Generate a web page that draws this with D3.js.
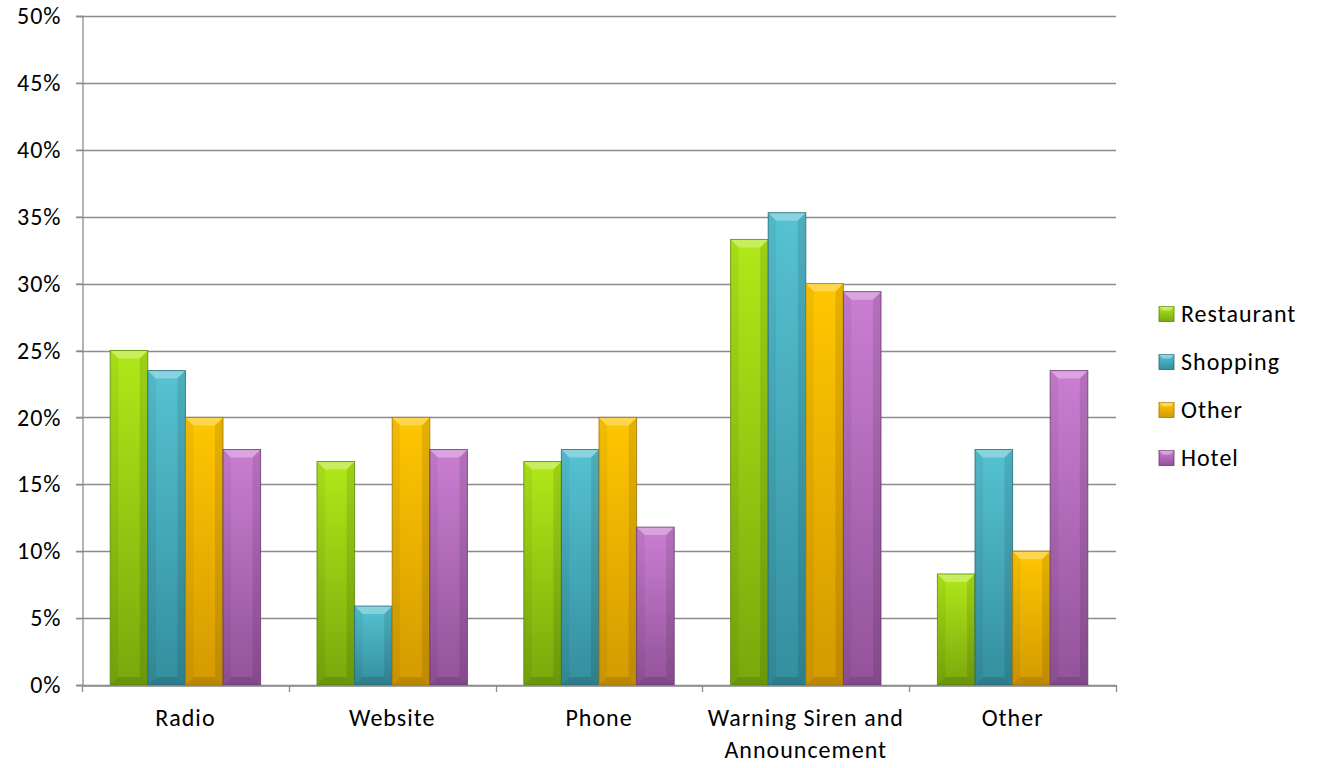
<!DOCTYPE html>
<html>
<head>
<meta charset="utf-8">
<script src="https://cdn.jsdelivr.net/npm/d3@7"></script>
<style>
  html, body { margin: 0; padding: 0; background: #fff; }
  svg { display: block; font-family: "Carlito", "Lato", "Open Sans", sans-serif; }
  text { letter-spacing: 1px; }
</style>
</head>
<body>
<svg id="chart" width="1317" height="768"></svg>
<script>
// Survey: how respondents received the warning, by location type
const categories = ["Radio", "Website", "Phone", "Warning Siren and Announcement", "Other"];
const seriesNames = ["Restaurant", "Shopping", "Other", "Hotel"];
const restaurant = [25.0, 16.7, 16.7, 33.3, 8.3];
const shopping   = [23.5, 5.9, 17.6, 35.3, 17.6];
const other      = [20.0, 20.0, 20.0, 30.0, 10.0];
const hotel      = [17.6, 17.6, 11.8, 29.4, 23.5];
const yTicks = [0, 5, 10, 15, 20, 25, 30, 35, 40, 45, 50];

const seriesValues = [restaurant, shopping, other, hotel];
const palette = [
  { top: "#b0e818", bottom: "#78a80c", edge: "#5a8406" },
  { top: "#56c2d2", bottom: "#348e9e", edge: "#206a76" },
  { top: "#ffc600", bottom: "#d49a00", edge: "#a27400" },
  { top: "#ca7ed2", bottom: "#93539a", edge: "#6a3670" }
];
const FONT = 24;

const svg = d3.select("#chart");
const margin = { left: 82, right: 1116, top: 16, bottom: 685 };

const x0 = d3.scaleBand().domain(categories).range([margin.left, margin.right]).paddingInner(0).paddingOuter(0);
const bandW = x0.bandwidth();
// 150% gap width: four bars plus 1.5 bar-widths of gap per category
const x1 = d3.scaleBand().domain(seriesNames).range([0, bandW]).paddingInner(0).paddingOuter(0.75);
const y = d3.scaleLinear().domain([0, 50]).range([margin.bottom, margin.top]);

const defs = svg.append("defs");
palette.forEach((p, i) => {
  const g = defs.append("linearGradient").attr("id", "grad" + i)
    .attr("x1", 0).attr("y1", 0).attr("x2", 0).attr("y2", 1);
  g.append("stop").attr("offset", "0%").attr("stop-color", p.top);
  g.append("stop").attr("offset", "100%").attr("stop-color", p.bottom);
});

// Gridlines
svg.append("g")
  .selectAll("line").data(yTicks).join("line")
  .attr("x1", margin.left - 6).attr("x2", margin.right)
  .attr("y1", d => Math.round(y(d)) + 0.5).attr("y2", d => Math.round(y(d)) + 0.5)
  .attr("stroke", "#8c8c8c").attr("stroke-width", 1.3);

// Y axis
const yAxis = d3.axisLeft(y).tickValues(yTicks).tickFormat(d => d + "%").tickSize(6).tickPadding(15);
const gy = svg.append("g").attr("transform", `translate(${margin.left + 0.5},0)`).call(yAxis);
gy.select(".domain").attr("stroke", "#8c8c8c").attr("stroke-width", 1.3);
gy.selectAll(".tick line").attr("stroke", "#8c8c8c").attr("stroke-width", 1.3);
gy.selectAll(".tick text").attr("font-size", FONT).attr("fill", "#000")
  .attr("font-family", "Carlito, Lato, 'Open Sans', sans-serif");

// Bars with bevelled edges
const bevel = 8;
const groups = svg.append("g").selectAll("g").data(categories).join("g")
  .attr("transform", d => `translate(${x0(d)},0)`);

seriesNames.forEach((s, si) => {
  groups.each(function(cat, ci) {
    const v = seriesValues[si][ci];
    const bx0 = x1(s), bx1 = x1(s) + x1.bandwidth();
    const by0 = y(v), by1 = y(0);
    const b = Math.min(bevel, (by1 - by0) / 2);
    const g = d3.select(this).append("g");
    g.append("rect").attr("x", bx0).attr("y", by0).attr("width", bx1 - bx0).attr("height", by1 - by0)
      .attr("fill", `url(#grad${si})`);
    // top bevel (lit)
    g.append("polygon")
      .attr("points", [[bx0, by0], [bx1, by0], [bx1 - b, by0 + b], [bx0 + b, by0 + b]].join(" "))
      .attr("fill", "#fff").attr("fill-opacity", 0.3);
    // left bevel
    g.append("polygon")
      .attr("points", [[bx0, by0], [bx0 + b, by0 + b], [bx0 + b, by1 - b], [bx0, by1]].join(" "))
      .attr("fill", "#000").attr("fill-opacity", 0.05);
    // right bevel (shaded)
    g.append("polygon")
      .attr("points", [[bx1, by0], [bx1 - b, by0 + b], [bx1 - b, by1 - b], [bx1, by1]].join(" "))
      .attr("fill", "#000").attr("fill-opacity", 0.1);
    // bottom bevel
    g.append("polygon")
      .attr("points", [[bx0, by1], [bx0 + b, by1 - b], [bx1 - b, by1 - b], [bx1, by1]].join(" "))
      .attr("fill", "#000").attr("fill-opacity", 0.12);
    // outline
    g.append("rect").attr("x", bx0).attr("y", by0).attr("width", bx1 - bx0).attr("height", by1 - by0)
      .attr("fill", "none").attr("stroke", palette[si].edge).attr("stroke-width", 1).attr("stroke-opacity", 0.8);
  });
});

// X axis
const xAxis = d3.axisBottom(x0).tickSize(0).tickFormat("");
const gx = svg.append("g").attr("transform", `translate(0,${margin.bottom + 0.5})`).call(xAxis);
gx.select(".domain").attr("stroke", "#8c8c8c").attr("stroke-width", 1.3);
// category boundary ticks
const bounds = categories.map(c => x0(c)).concat([margin.right]);
svg.append("g").selectAll("line").data(bounds).join("line")
  .attr("x1", d => Math.round(d) + 0.5).attr("x2", d => Math.round(d) + 0.5)
  .attr("y1", margin.bottom).attr("y2", margin.bottom + 7)
  .attr("stroke", "#8c8c8c").attr("stroke-width", 1.3);

// Category labels (wrapped)
const wrapLines = {
  "Warning Siren and Announcement": ["Warning Siren and", "Announcement"]
};
const labels = svg.append("g").selectAll("text").data(categories).join("text")
  .attr("x", d => x0(d) + bandW / 2).attr("y", 726)
  .attr("text-anchor", "middle").attr("font-size", FONT).attr("fill", "#000");
labels.each(function(d) {
  const lines = wrapLines[d] || [d];
  d3.select(this).selectAll("tspan").data(lines).join("tspan")
    .attr("x", x0(d) + bandW / 2).attr("dy", (l, i) => i === 0 ? 0 : 32).text(l => l);
});

// Legend
const legend = svg.append("g").selectAll("g").data(seriesNames).join("g")
  .attr("transform", (d, i) => `translate(1159,${314 + i * 48})`);
legend.each(function(d, i) {
  const g = d3.select(this);
  const s = 15, b = 4;
  g.append("rect").attr("x", 0).attr("y", -s / 2).attr("width", s).attr("height", s)
    .attr("fill", `url(#grad${i})`).attr("stroke", palette[i].edge).attr("stroke-width", 0.8);
  g.append("polygon")
    .attr("points", [[0, -s / 2], [s, -s / 2], [s - b, -s / 2 + b], [b, -s / 2 + b]].join(" "))
    .attr("fill", "#fff").attr("fill-opacity", 0.35);
  g.append("text").attr("x", 22).attr("y", 8).attr("font-size", FONT).attr("fill", "#000").text(d);
});
</script>
</body>
</html>
